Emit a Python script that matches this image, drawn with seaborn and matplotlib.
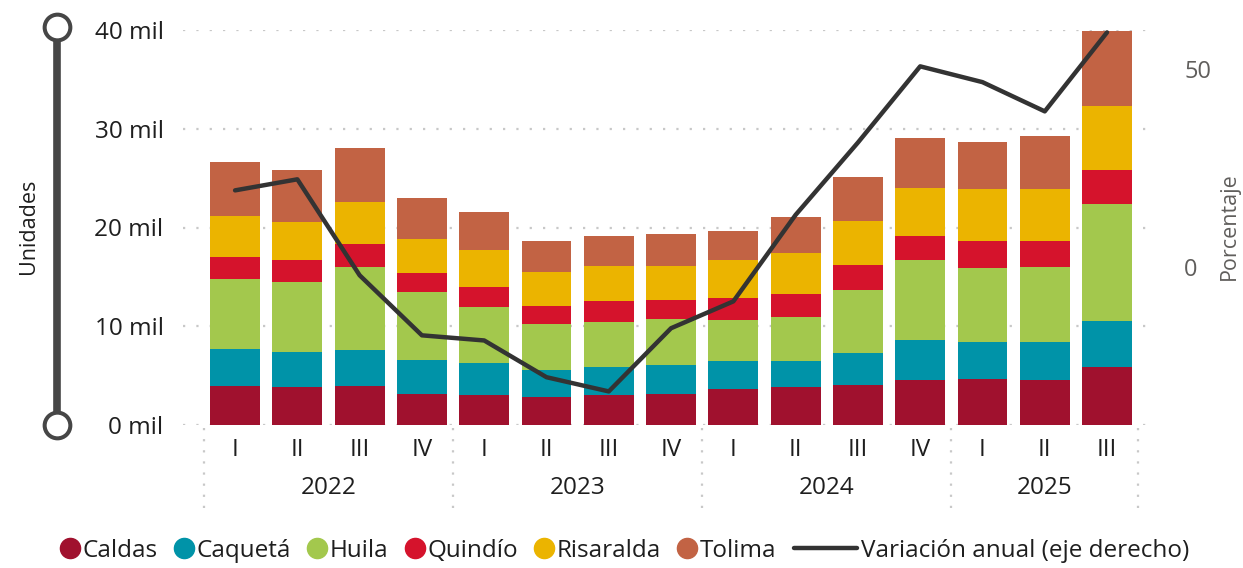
import matplotlib
matplotlib.use("Agg")
import matplotlib.pyplot as plt
from matplotlib.lines import Line2D
from matplotlib.legend_handler import HandlerLine2D
import matplotlib.transforms as mtransforms
import numpy as np
import pandas as pd
import seaborn as sns

# ---------------- data ----------------
quarters = ["I", "II", "III", "IV", "I", "II", "III", "IV",
            "I", "II", "III", "IV", "I", "II", "III"]
years = ["2022", "2023", "2024", "2025"]
year_sizes = [4, 4, 4, 3]

caldas    = [3950, 3850, 3950, 3150, 3050, 2850, 3050, 3150, 3650, 3850, 4050, 4550, 4650, 4550, 5900]
caqueta   = [3750, 3550, 3650, 3450, 3250, 2750, 2850, 2950, 2850, 2650, 3250, 4050, 3750, 3850, 4600]
huila     = [7100, 7100, 8400, 6900, 5700, 4600, 4500, 4600, 4100, 4400, 6400, 8100, 7500, 7600, 11900]
quindio   = [2200, 2200, 2300, 1900, 2000, 1900, 2200, 2000, 2300, 2400, 2500, 2450, 2750, 2650, 3400]
risaralda = [4200, 3900, 4300, 3400, 3700, 3400, 3500, 3400, 3800, 4100, 4500, 4850, 5250, 5250, 6500]
tolima    = [5400, 5200, 5500, 4200, 3900, 3100, 3000, 3250, 2950, 3700, 4400, 5100, 4800, 5400, 7600]
variacion = [19.4, 22.2, -2.1, -17.3, -18.6, -27.9, -31.5, -15.5, -8.7, 13.2, 31.5, 50.8, 46.8, 39.4, 59.4]

series_names = ["Caldas", "Caquetá", "Huila", "Quindío", "Risaralda", "Tolima"]
series_vals = [caldas, caqueta, huila, quindio, risaralda, tolima]
colors = ["#A0112E", "#0093A8", "#A3C84D", "#D5132C", "#EBB400", "#C26344"]
line_color = "#333333"
line_label = "Variación anual (eje derecho)"

# ---------------- style ----------------
sns.set_theme(style="white")
plt.rcParams["font.family"] = ["Open Sans", "DejaVu Sans"]

W, H = 1243, 568
fig = plt.figure(figsize=(W / 100, H / 100), dpi=100)

def fx(px):
    return px / W

def fy(py):
    return 1 - py / H

ax_left, ax_right, ax_top, ax_bot = 183, 1155, 30, 425
ax = fig.add_axes([fx(ax_left), fy(ax_bot), fx(ax_right - ax_left), (ax_bot - ax_top) / H])

x = np.arange(len(quarters))
df = pd.DataFrame({"x": x, "variacion": variacion})

# stacked bars
bottom = np.zeros(len(x))
for name, vals, col in zip(series_names, series_vals, colors):
    vals = np.array(vals, dtype=float)
    ax.bar(x, vals, bottom=bottom, width=0.8, color=col, linewidth=0, zorder=2, label=name)
    bottom += vals

ax.set_xlim(-0.836, 14.77)
ax.set_ylim(0, 40000)
ax.set_yticks([0, 10000, 20000, 30000, 40000])
ax.set_yticklabels([f"{int(v/1000)} mil" for v in [0, 10000, 20000, 30000, 40000]])
ax.tick_params(axis="y", length=0, pad=14, labelsize=17.5, labelcolor="#1E1E1E")
ax.set_xticks(x)
ax.set_xticklabels(quarters)
ax.tick_params(axis="x", length=0, pad=9, labelsize=17.5, labelcolor="#1E1E1E")
for s in ax.spines.values():
    s.set_visible(False)
ax.grid(False)
for v in [0, 10000, 20000, 30000, 40000]:
    ax.axhline(v, color="#C8C8C8", linewidth=1.6, linestyle=(0, (1, 5)), zorder=1)

# line on the right axis
ax2 = ax.twinx()
sns.lineplot(data=df, x="x", y="variacion", ax=ax2, color=line_color, linewidth=3.2, zorder=5)
ax2.set_ylim(-40, 60)
ax2.set_xlim(-0.836, 14.77)
ax2.set_yticks([0, 50])
ax2.set_yticklabels(["0", "50"])
ax2.tick_params(axis="y", length=0, pad=21, labelsize=17, labelcolor="#605E5C")
ax2.set_ylabel("")
ax2.set_xlabel("")
for s in ax2.spines.values():
    s.set_visible(False)
ax2.grid(False)

# year labels and separators
trans = mtransforms.blended_transform_factory(ax.transData, fig.transFigure)
start = 0
bounds = [-0.5]
for yr, n in zip(years, year_sizes):
    center = start + (n - 1) / 2
    ax.text(center, fy(488), yr, transform=trans, ha="center", va="center",
            fontsize=17.5, color="#1E1E1E")
    start += n
    bounds.append(start - 0.5)
for b in bounds:
    ln = Line2D([b, b], [fy(428), fy(508)], transform=trans, color="#C8C8C8",
                linewidth=1.6, linestyle=(0, (1, 4)), clip_on=False)
    ax.add_artist(ln)

# axis titles
fig.text(fx(28), fy(226), "Unidades", rotation=90, ha="center", va="center",
         fontsize=15.5, color="#1E1E1E")
fig.text(fx(1229), fy(226), "Porcentaje", rotation=90, ha="center", va="center",
         fontsize=15.5, color="#605E5C")

# left decorative slider
fig.add_artist(Line2D([fx(57), fx(57)], [fy(27), fy(425)], transform=fig.transFigure,
                      color="#464646", linewidth=5.5, zorder=1))
fig.add_artist(Line2D([fx(57), fx(57)], [fy(27), fy(425)], transform=fig.transFigure,
                      linestyle="none", marker="o", markersize=18.5, markerfacecolor="white",
                      markeredgecolor="#464646", markeredgewidth=2.9, zorder=2))

# legend
class WideLineHandler(HandlerLine2D):
    def legend_artist(self, legend, orig_handle, fontsize, handlebox):
        handlebox.width = handlebox.width * 3.5
        return super().legend_artist(legend, orig_handle, fontsize, handlebox)

handles = [Line2D([], [], linestyle="none", marker="o", markersize=14.5,
                  markerfacecolor=c, markeredgecolor=c) for c in colors]
line_handle = Line2D([], [], color=line_color, linewidth=3.2)
handles.append(line_handle)
labels = series_names + [line_label]
fig.legend(handles, labels, loc="center", bbox_to_anchor=(fx(625), fy(551)), ncol=7,
           frameon=False, fontsize=17.5, handlelength=0.75, handletextpad=0.15,
           columnspacing=0.7, borderpad=0, labelcolor="#1E1E1E",
           handler_map={line_handle: WideLineHandler()})

fig.savefig("out.png", dpi=100)
